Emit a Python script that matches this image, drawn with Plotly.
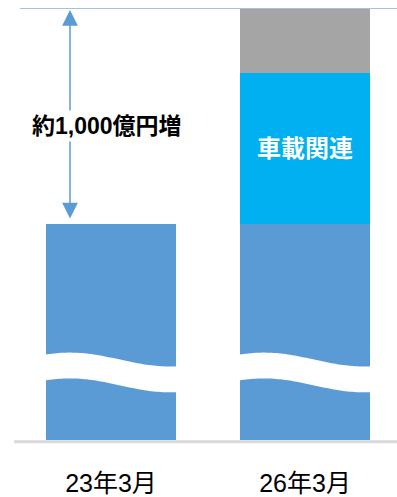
import numpy as np
import plotly.graph_objects as go

# Period labels and stacked segment values (億円, display scale of the broken axis)
periods = ["23年3月", "26年3月"]
base_sales = [1000, 1000]        # existing business (axis is broken below)
automotive = [0, 700]            # 車載関連 growth
other_growth = [0, 300]          # other growth
segment_label = ["", "車載関連"]
increase_label = "約1,000億円増"

BLUE = "#5b9bd5"
CYAN = "#00b0f0"
GRAY = "#a5a5a5"
FONT = "Liberation Sans, Arial, Noto Sans CJK JP, sans-serif"

W, H = 397, 497
M_T, M_B = 8, 54
x_pos = [0, 1]
bar_w = 0.67
x_range = [-0.572, 1.474]
total = [b + a + o for b, a, o in zip(base_sales, automotive, other_growth)]
y_max = max(total)

fig = go.Figure()
fig.add_bar(x=x_pos, y=base_sales, width=bar_w, marker=dict(color=BLUE, line_width=0),
            hoverinfo="skip")
fig.add_bar(x=x_pos, y=automotive, width=bar_w, marker=dict(color=CYAN, line_width=0),
            text=segment_label, textposition="inside", insidetextanchor="middle",
            textangle=0, textfont=dict(color="white", size=24, family=FONT, weight="bold"),
            hoverinfo="skip")
fig.add_bar(x=x_pos, y=other_growth, width=bar_w, marker=dict(color=GRAY, line_width=0),
            hoverinfo="skip")

# Axis-break wave drawn across the lower part of each bar
plot_h = H - M_T - M_B
units_per_px = y_max / plot_h
px_per_x = W / (x_range[1] - x_range[0])
shapes = []
for c in x_pos:
    left = c - bar_w / 2
    xs_px = np.linspace(-3, bar_w * px_per_x + 3, 60)
    top_px = 81 + 7 * np.cos(np.pi * (xs_px - 24) / 100)   # height above baseline, px
    bot_px = top_px - 26
    xs = left + xs_px / px_per_x
    top = top_px * units_per_px
    bot = bot_px * units_per_px
    pts = [f"{x:.4f},{y:.2f}" for x, y in zip(xs, top)]
    pts += [f"{x:.4f},{y:.2f}" for x, y in zip(xs[::-1], bot[::-1])]
    path = "M" + " L".join(pts) + " Z"
    shapes.append(dict(type="path", path=path, xref="x", yref="y",
                       fillcolor="white", line=dict(width=0), layer="above"))

# Baseline and target level line
shapes.append(dict(type="line", xref="paper", yref="paper", x0=14 / W, x1=1,
                   y0=-0.004, y1=-0.004, line=dict(color="#d9d9d9", width=3),
                   layer="above"))
shapes.append(dict(type="line", xref="paper", yref="y", x0=20 / W, x1=1,
                   y0=y_max, y1=y_max, line=dict(color="#9dc3e6", width=2),
                   layer="above"))

arrow_x = x_range[0] + 70 / px_per_x
annotations = [
    dict(x=arrow_x, y=y_max - 2 * units_per_px, ax=arrow_x, ay=base_sales[0],
         xref="x", yref="y", axref="x", ayref="y", text="", showarrow=True,
         arrowside="end+start", arrowhead=2, startarrowhead=2,
         arrowsize=2.1, startarrowsize=2.1, arrowwidth=1.5, arrowcolor=BLUE,
         startstandoff=4),
    dict(x=x_range[0] + 107 / px_per_x, y=(H - M_B - 127) * units_per_px,
         xref="x", yref="y", text=increase_label, showarrow=False,
         font=dict(size=23, color="black", family=FONT, weight="bold"),
         bgcolor="white", borderpad=2),
]

fig.update_layout(
    width=W, height=H, barmode="stack", showlegend=False,
    margin=dict(l=0, r=0, t=M_T, b=M_B),
    paper_bgcolor="white", plot_bgcolor="white",
    shapes=shapes, annotations=annotations,
    xaxis=dict(range=x_range, tickvals=x_pos, ticktext=periods, showgrid=False,
               zeroline=False, showline=False, ticks="", ticklabelstandoff=26,
               tickfont=dict(size=25, color="black", family=FONT)),
    yaxis=dict(range=[0, y_max], visible=False),
)

fig.write_html("out.html")
